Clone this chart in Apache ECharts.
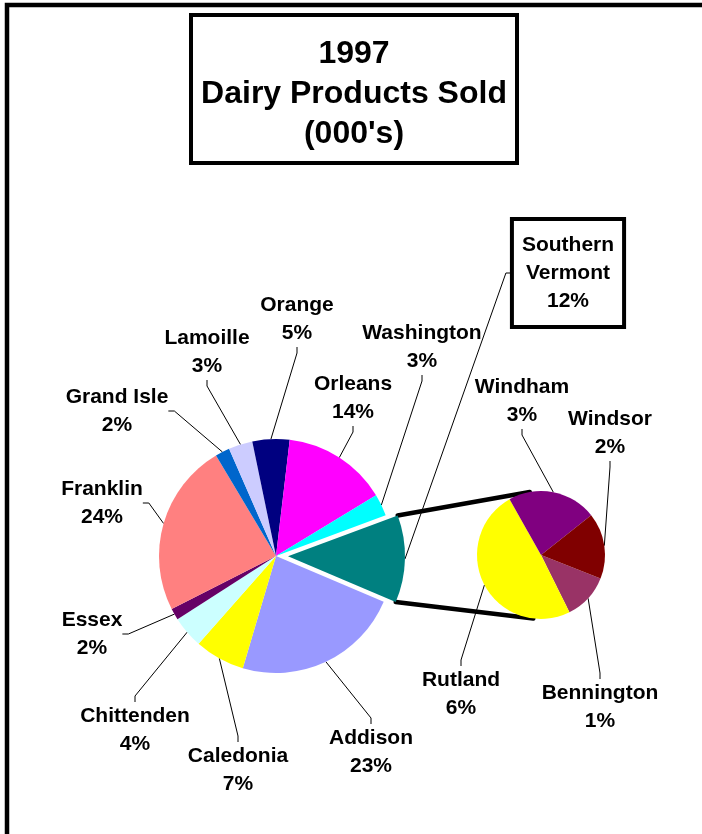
<!DOCTYPE html>
<html>
<head>
<meta charset="utf-8">
<script src="https://cdn.jsdelivr.net/npm/echarts@6/dist/echarts.min.js"></script>
<style>
  html, body { margin: 0; padding: 0; background: #fff; }
  #main { width: 702px; height: 834px; }
</style>
</head>
<body>
<div id="main"></div>
<script>
// shares of 1997 dairy sales
var counties = ['Addison', 'Caledonia', 'Chittenden', 'Essex', 'Franklin', 'Grand Isle', 'Lamoille', 'Orange', 'Orleans', 'Washington'];
var countyShare = [23.1, 6.9, 4.4, 1.6, 23.8, 2.0, 3.3, 5.1, 14.4, 3.0];
var southName = 'Southern Vermont';
var southCounties = ['Bennington', 'Rutland', 'Windham', 'Windsor'];
var southShare = [1.4, 5.9, 2.7, 2.0];

var countyColors = ['#9999ff', '#ffff00', '#ccffff', '#660066', '#ff8080', '#0066cc', '#ccccff', '#000080', '#ff00ff', '#00ffff'];
var southColor = '#008080';
var southColors = ['#993366', '#ffff00', '#800080', '#800000'];

// where the labels sit (centre of each label block)
var mainLabelPos = [[371, 752], [238, 770], [135, 730], [92, 634], [102, 503], [117, 411], [207, 352], [297, 319], [353, 398], [422, 347]];
var southLabelPos = [568, 273];
var subLabelPos = [[600, 707], [461, 694], [522, 401], [610, 433]];

var font = "'Liberation Sans', Arial, sans-serif";
var southTotal = southShare.reduce(function (a, b) { return a + b; }, 0);
var grandTotal = countyShare.reduce(function (a, b) { return a + b; }, 0) + southTotal;

function pct(v) { return Math.round(v / grandTotal * 100) + '%'; }

var mainData = counties.map(function (c, i) {
  return { name: c, value: countyShare[i], itemStyle: { color: countyColors[i] } };
});
// the selected slice keeps its own label state, so its boxed label is drawn as a graphic below
mainData.push({
  name: southName, value: southTotal, selected: true,
  itemStyle: { color: southColor },
  label: { show: false }, labelLine: { show: false }
});
var subData = southCounties.map(function (c, i) {
  return { name: c, value: southShare[i], itemStyle: { color: southColors[i] } };
});

var labelStyle = {
  show: true, position: 'outside',
  formatter: function (p) { return p.name + '\n' + pct(p.value); },
  fontFamily: font, fontSize: 21, fontWeight: 'bold', lineHeight: 28, color: '#000'
};
var lineStyle = { show: true, length: 0, length2: 6, smooth: false, lineStyle: { color: '#000', width: 1 } };

function placeAt(list) {
  return function (p) {
    var pos = list[p.dataIndex];
    if (!pos) return {};
    return { x: pos[0], y: pos[1], align: 'center', verticalAlign: 'middle' };
  };
}

var chart = echarts.init(document.getElementById('main'));
var option = {
  animation: false,
  backgroundColor: '#fff',
  title: {
    text: "1997\nDairy Products Sold\n(000's)",
    left: 344, top: 15, textAlign: 'center',
    padding: [19, 10, 9, 10],
    borderColor: '#000', borderWidth: 4,
    textStyle: { fontFamily: font, fontSize: 32, fontWeight: 'bold', lineHeight: 40, color: '#000' }
  },
  series: [
    {
      type: 'pie',
      center: [276, 556],
      radius: 117,
      startAngle: -23,
      selectedMode: 'single',
      selectedOffset: 12,
      avoidLabelOverlap: false,
      emphasis: { disabled: true },
      select: { itemStyle: { borderWidth: 0 } },
      itemStyle: { borderWidth: 0 },
      label: labelStyle,
      labelLine: lineStyle,
      labelLayout: placeAt(mainLabelPos),
      data: mainData
    },
    {
      type: 'pie',
      center: [541, 555],
      radius: 64,
      startAngle: -21.6,
      avoidLabelOverlap: false,
      emphasis: { disabled: true },
      itemStyle: { borderWidth: 0 },
      label: labelStyle,
      labelLine: lineStyle,
      labelLayout: placeAt(subLabelPos),
      data: subData
    }
  ]
};
chart.setOption(option);

// connector lines and the Southern Vermont label, from the laid-out pies
var model = chart.getModel();
var mLay = model.getSeriesByIndex(0).getData().getItemLayout(counties.length);
var sLay = model.getSeriesByIndex(1).getData().getItemLayout(0);
var off = 12;
var mid = (mLay.startAngle + mLay.endAngle) / 2;
var ox = mLay.cx + off * Math.cos(mid), oy = mLay.cy + off * Math.sin(mid);
var cA = [ox + mLay.r * Math.cos(mLay.startAngle), oy + mLay.r * Math.sin(mLay.startAngle)];
var cB = [ox + mLay.r * Math.cos(mLay.endAngle), oy + mLay.r * Math.sin(mLay.endAngle)];
function tangent(p, sign) {
  var dx = p[0] - sLay.cx, dy = p[1] - sLay.cy;
  var d = Math.sqrt(dx * dx + dy * dy);
  var a = Math.atan2(dy, dx) + sign * Math.acos(sLay.r / d);
  return [sLay.cx + sLay.r * Math.cos(a), sLay.cy + sLay.r * Math.sin(a)];
}
var tA = tangent(cA, 1), tB = tangent(cB, -1);
var anchor = [ox + mLay.r * Math.cos(mid), oy + mLay.r * Math.sin(mid)];

var ctx = document.createElement('canvas').getContext('2d');
ctx.font = 'bold 21px ' + font;
var svLines = ['Southern', 'Vermont', pct(southTotal)];
var svW = Math.max.apply(null, svLines.map(function (s) { return ctx.measureText(s).width; }));
var svLeft = southLabelPos[0] - svW / 2 - 8 - 2;

var graphics = [
  { type: 'rect', shape: { x: 7, y: 5, width: 800, height: 900 },
    style: { fill: 'none', stroke: '#000', lineWidth: 4.5 }, silent: true },
  { type: 'line', shape: { x1: cA[0], y1: cA[1], x2: tA[0], y2: tA[1] },
    style: { stroke: '#000', lineWidth: 4.5, lineCap: 'round' }, silent: true },
  { type: 'line', shape: { x1: cB[0], y1: cB[1], x2: tB[0], y2: tB[1] },
    style: { stroke: '#000', lineWidth: 4.5, lineCap: 'round' }, silent: true },
  { type: 'polyline',
    shape: { points: [anchor, [svLeft - 6, southLabelPos[1]], [svLeft, southLabelPos[1]]] },
    style: { stroke: '#000', lineWidth: 1, fill: 'none' }, silent: true },
  { type: 'text', x: southLabelPos[0], y: southLabelPos[1], silent: true,
    style: {
      text: svLines.join('\n'), align: 'center', verticalAlign: 'middle',
      font: 'bold 21px ' + font, lineHeight: 28, fill: '#000',
      backgroundColor: '#fff', borderColor: '#000', borderWidth: 4, padding: [10, 8]
    } }
];
chart.setOption({ graphic: graphics });
</script>
</body>
</html>
